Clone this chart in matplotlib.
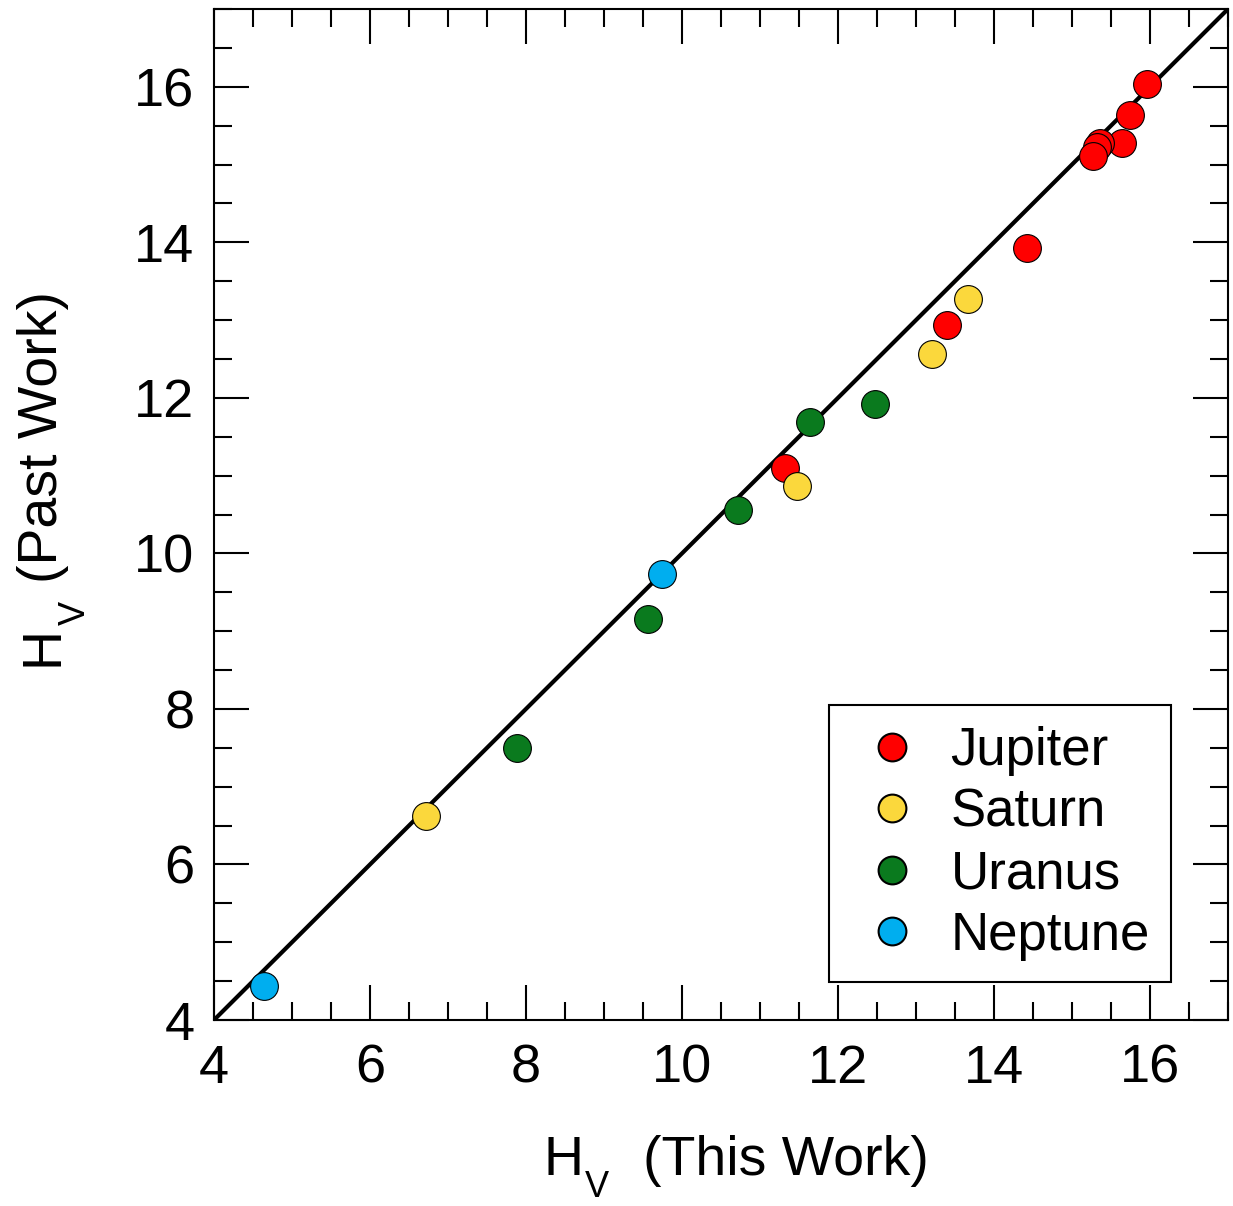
import matplotlib
matplotlib.use("Agg")
import matplotlib.pyplot as plt
from matplotlib.ticker import MultipleLocator

plt.rcParams["font.family"] = ["Liberation Sans", "DejaVu Sans"]

# H_V values: this work (x) vs past work (y)
jupiter_x = [15.96, 15.74, 15.64, 15.36, 15.32, 15.27, 14.42, 13.40, 11.32]
jupiter_y = [16.03, 15.64, 15.28, 15.28, 15.22, 15.11, 13.93, 12.94, 11.10]
saturn_x = [13.67, 13.21, 11.47, 6.72]
saturn_y = [13.27, 12.57, 10.87, 6.62]
uranus_x = [12.47, 11.64, 10.72, 9.56, 7.88]
uranus_y = [11.92, 11.69, 10.56, 9.16, 7.50]
neptune_x = [9.74, 4.64]
neptune_y = [9.74, 4.44]

groups = [
    ("Jupiter", jupiter_x, jupiter_y, "#ff0000"),
    ("Saturn", saturn_x, saturn_y, "#fbd83c"),
    ("Uranus", uranus_x, uranus_y, "#0a7a1e"),
    ("Neptune", neptune_x, neptune_y, "#00aeef"),
]

W, H = 1233, 1206
fig = plt.figure(figsize=(W / 100, H / 100), dpi=100)
ax = fig.add_axes([214 / W, 1 - 1020 / H, 1014 / W, 1011 / H])


def fx(px):
    return px / W


def fy(py):
    return 1 - py / H


# 1:1 line
ax.plot([4, 17], [4, 17], color="black", lw=3, zorder=2)

for name, xs, ys, col in groups:
    ax.plot(xs, ys, "o", ms=20, mfc=col, mec="black", mew=0.8,
            ls="none", label=name, zorder=3)

ax.set_xlim(4, 17)
ax.set_ylim(4, 17)
ax.xaxis.set_major_locator(MultipleLocator(2))
ax.xaxis.set_minor_locator(MultipleLocator(0.5))
ax.yaxis.set_major_locator(MultipleLocator(2))
ax.yaxis.set_minor_locator(MultipleLocator(0.5))
ax.tick_params(which="both", direction="in", top=True, right=True, width=1.5)
ax.tick_params(which="major", length=25, labelsize=39)
ax.tick_params(axis="x", which="major", pad=17)
ax.tick_params(axis="y", which="major", pad=14)
ax.tick_params(which="minor", length=13)
for sp in ax.spines.values():
    sp.set_linewidth(1.5)

# x label: H, subscript V, (This Work)
fig.text(fx(544), fy(1175), "H", fontsize=40, ha="left", va="baseline")
fig.text(fx(585), fy(1205), "V", fontsize=26, ha="left", va="bottom")
fig.text(fx(643), fy(1175), "(This Work)", fontsize=40, ha="left", va="baseline")

# y label, rotated
kw = dict(rotation=90, rotation_mode="anchor", ha="left", va="baseline")
fig.text(fx(57), fy(666), "H", fontsize=40, **kw)
fig.text(fx(85), fy(625), "V", fontsize=26, **kw)
fig.text(fx(57), fy(583), "(Past Work)", fontsize=40, **kw)

leg = ax.legend(loc="upper left", bbox_to_anchor=(fx(829), fy(705)),
                bbox_transform=fig.transFigure, borderaxespad=0,
                fontsize=38, frameon=True, fancybox=False, edgecolor="black",
                markerscale=1.0, handletextpad=0.3, labelspacing=0.22,
                borderpad=0.4, handlelength=1.6)
leg.get_frame().set_linewidth(1.5)
leg.get_frame().set_alpha(1)
for h in leg.legend_handles:
    h.set_markeredgewidth(1.5)

fig.savefig("out.png", dpi=100)
